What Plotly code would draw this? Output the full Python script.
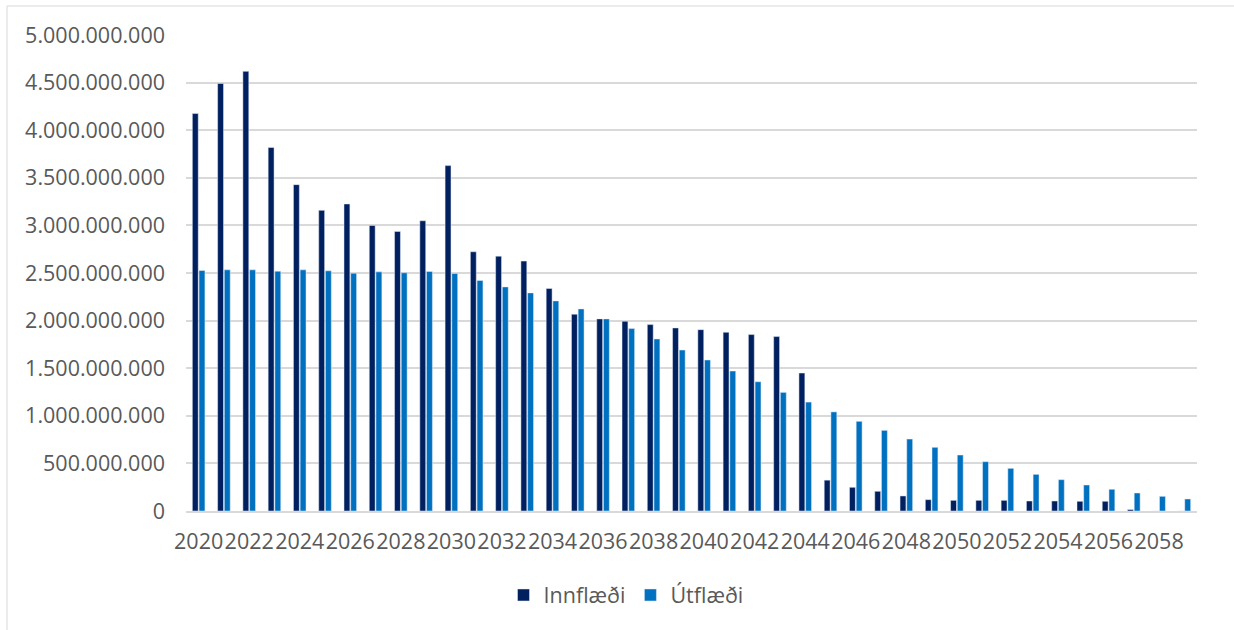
import plotly.graph_objects as go

years = [str(y) for y in range(2020, 2060)]
tick_labels = [str(y) for y in range(2020, 2060, 2)]

innflaedi = [4175e6, 4491e6, 4618e6, 3818e6, 3428e6, 3158e6, 3225e6, 3000e6, 2937e6, 3049e6,
             3628e6, 2723e6, 2677e6, 2625e6, 2337e6, 2067e6, 2018e6, 1993e6, 1958e6, 1923e6,
             1905e6, 1877e6, 1853e6, 1832e6, 1449e6, 324e6, 249e6, 207e6, 158e6, 119e6,
             112e6, 112e6, 112e6, 105e6, 105e6, 102e6, 102e6, 15e6, 0, 0]
utflaedi = [2526e6, 2533e6, 2533e6, 2519e6, 2533e6, 2523e6, 2498e6, 2512e6, 2502e6, 2516e6,
            2495e6, 2421e6, 2354e6, 2291e6, 2207e6, 2123e6, 2018e6, 1916e6, 1807e6, 1691e6,
            1586e6, 1470e6, 1358e6, 1246e6, 1144e6, 1041e6, 942e6, 847e6, 756e6, 669e6,
            588e6, 518e6, 448e6, 385e6, 329e6, 273e6, 228e6, 189e6, 154e6, 126e6]
y_ticks = [i * 500_000_000 for i in range(11)]
y_tick_text = ["0"] + [f"{v:,}".replace(",", ".") for v in y_ticks[1:]]

W, H = 1234, 630
L, R, T, B = 186, 37, 35, 119
pw, ph = W - L - R, H - T - B

def px_x(x):
    return (x - L) / pw

def px_y(y):
    return (H - B - y) / ph

font_family = "Open Sans"
grey = "#595959"
fs = 21.5

fig = go.Figure()
fig.add_trace(go.Bar(x=years, y=innflaedi, name="Innflæði", marker=dict(color="#002060")))
fig.add_trace(go.Bar(x=years, y=utflaedi, name="Útflæði", marker=dict(color="#0070C0")))

fig.update_layout(
    width=W, height=H,
    margin=dict(l=L, r=R, t=T, b=B, pad=0),
    paper_bgcolor="white", plot_bgcolor="white",
    barmode="group", bargap=0.47, bargroupgap=0.12,
    font=dict(family=font_family, size=fs, color=grey),
    showlegend=True,
    legend=dict(orientation="h", xref="container", yref="container",
                x=626 / W, xanchor="center", y=1 - 595 / H, yanchor="middle",
                font=dict(family=font_family, size=fs, color=grey),
                itemwidth=30, tracegroupgap=0),
    xaxis=dict(type="category", tickmode="array", tickvals=tick_labels, ticktext=tick_labels,
               showgrid=False, showline=True, linecolor="#d9d9d9", linewidth=1.5,
               ticks="", tickfont=dict(size=fs, color=grey), tickangle=0,
               ticklabelstandoff=10),
    yaxis=dict(range=[0, 5e9], tickmode="array", tickvals=y_ticks, ticktext=y_tick_text,
               showgrid=True, gridcolor="#d9d9d9", gridwidth=1.5, zeroline=False,
               showline=False, ticks="", tickfont=dict(size=fs, color=grey),
               ticklabelstandoff=20),
    shapes=[dict(type="rect", xref="paper", yref="paper",
                 x0=px_x(7), x1=px_x(1250), y0=px_y(650), y1=px_y(6),
                 line=dict(color="#d9d9d9", width=1), fillcolor="rgba(0,0,0,0)", layer="below")],
)

fig.write_html("out.html", config={"displayModeBar": False},
               post_script="document.body.style.margin='0';")
